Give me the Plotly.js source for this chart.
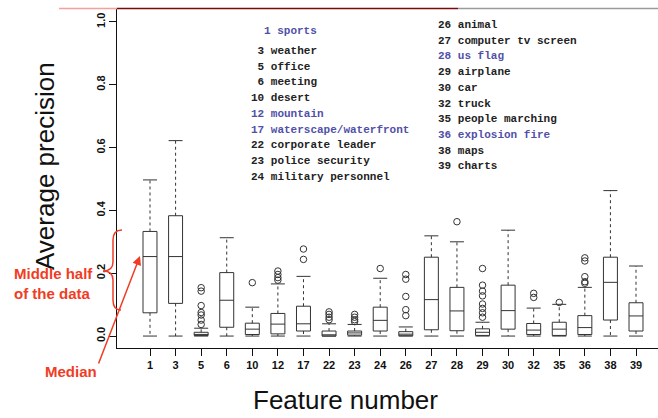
<!DOCTYPE html>
<html>
<head>
<meta charset="utf-8">
<script src="https://cdn.plot.ly/plotly-3.0.1.min.js"></script>
<style>html,body{margin:0;padding:0;background:#fff;}#chart{width:658px;height:418px;}</style>
</head>
<body>
<div id="chart"></div>
<script>
// ---- data ----
const categories = ['1','3','5','6','10','12','17','22','23','24','26','27','28','29','30','32','35','36','38','39'];
const upperWhisker = [0.497,0.622,0.025,0.313,0.092,0.166,0.190,0.039,0.037,0.184,0.029,0.319,0.300,0.044,0.337,0.089,0.101,0.155,0.463,0.223];
const q3 =           [0.333,0.383,0.012,0.202,0.041,0.072,0.095,0.016,0.016,0.092,0.014,0.251,0.155,0.023,0.162,0.040,0.044,0.065,0.251,0.106];
const median =       [0.253,0.253,0.005,0.114,0.022,0.038,0.039,0.004,0.010,0.050,0.006,0.116,0.080,0.012,0.081,0.019,0.022,0.027,0.171,0.064];
const q1 =           [0.074,0.104,0.002,0.028,0.005,0.007,0.016,0.000,0.003,0.016,0.001,0.020,0.017,0.002,0.022,0.005,0.002,0.005,0.051,0.016];
const lowerWhisker = [0,0,0,0,0,0,0,0,0,0,0,0,0,0,0,0,0,0,0,0];

const outlierCat = ['5','5','5','5','5','5','5','10','12','12','12','12','17','17','22','22','22','22','23','23','23','23','24','26','26','26','26','26','28','29','29','29','29','29','29','29','29','32','32','35','36','36','36','36','36'];
const outlierVal = [0.154,0.143,0.097,0.075,0.067,0.051,0.037,0.170,0.207,0.196,0.186,0.178,0.277,0.244,0.077,0.069,0.060,0.052,0.069,0.060,0.052,0.046,0.215,0.196,0.181,0.126,0.084,0.065,0.364,0.215,0.162,0.143,0.128,0.102,0.088,0.074,0.060,0.136,0.123,0.107,0.249,0.239,0.189,0.173,0.168];

const legendLeftNums  = ['3','5','6','10','12','17','22','23','24'];
const legendLeftNames = ['weather','office','meeting','desert','mountain','waterscape/waterfront','corporate leader','police security','military personnel'];
const legendRightNums  = ['26','27','28','29','30','32','35','36','38','39'];
const legendRightNames = ['animal','computer tv screen','us flag','airplane','car','truck','people marching','explosion fire','maps','charts'];
const legendTitle = '1 sports';
const highlighted = ['1','12','17','28','36'];

const yTickVals = [0,0.2,0.4,0.6,0.8,1.0];

// ---- geometry helpers (pixel -> paper) ----
const PL = 117, PR = 658, PT = 9, PB = 348;
const px = x => (x - PL) / (PR - PL);
const py = y => (PB - y) / (PB - PT);

const BLUE = '#5050a8', RED = '#f03c24', INK = '#222';

// whisker segments
const wx = [], wy = [];
categories.forEach((c, i) => {
  wx.push(c, c, null, c, c, null);
  wy.push(q3[i], upperWhisker[i], null, q1[i], lowerWhisker[i], null);
});
const capX = categories.concat(categories);
const capY = upperWhisker.concat(lowerWhisker);

const traces = [
  {type:'scatter', mode:'lines', x:wx, y:wy, connectgaps:false,
   line:{color:'#333', width:1, dash:'3px,3px'}, hoverinfo:'skip', showlegend:false},
  {type:'box', x:categories, q1:q1, median:median, q3:q3, lowerfence:q1, upperfence:q3,
   boxpoints:false, whiskerwidth:0, fillcolor:'rgba(0,0,0,0)',
   line:{color:'#333', width:1}, showlegend:false},
  {type:'scatter', mode:'markers', x:capX, y:capY,
   marker:{symbol:'line-ew', size:10, line:{color:'#333', width:1}}, hoverinfo:'skip', showlegend:false},
  {type:'scatter', mode:'markers', x:outlierCat, y:outlierVal,
   marker:{symbol:'circle-open', size:6.5, color:'#333', line:{width:1}}, showlegend:false}
];

const mono = {family:'"Liberation Mono", "DejaVu Sans Mono", monospace', size:11, weight:'bold'};
const annotations = [];
function addText(text, x, y, color, xanchor) {
  annotations.push({xref:'paper', yref:'paper', x:px(x), y:py(y), text:text, showarrow:false,
    xanchor:xanchor || 'left', yanchor:'middle', font:Object.assign({}, mono, {color:color})});
}
addText(legendTitle, 262, 31, BLUE);
legendLeftNums.forEach((n, i) => {
  const label = (n.length < 2 ? '\u00a0' : '') + n + '\u00a0' + legendLeftNames[i];
  addText(label, 248.5, 51 + i * 15.7, highlighted.includes(n) ? BLUE : INK);
});
legendRightNums.forEach((n, i) => {
  const label = n + '\u00a0' + legendRightNames[i];
  addText(label, 436, 25 + i * 15.7, highlighted.includes(n) ? BLUE : INK);
});

const sans = '"Liberation Sans", Arial, Helvetica, sans-serif';
// axis titles
annotations.push({xref:'paper', yref:'paper', x:px(345), y:py(416), text:'Feature number', showarrow:false,
  xanchor:'center', yanchor:'bottom', font:{family:sans, size:26, color:'#111'}, borderpad:0});
annotations.push({xref:'paper', yref:'paper', x:px(45), y:py(166), text:'Average precision', showarrow:false,
  textangle:-90, xanchor:'center', yanchor:'middle', font:{family:sans, size:26, color:'#111'}});

// red explanatory notes
const redFont = {family:sans, size:15, weight:'bold', color:RED};
annotations.push({xref:'paper', yref:'paper', x:px(12), y:py(273), text:'Middle half', showarrow:false,
  xanchor:'left', yanchor:'middle', font:redFont});
annotations.push({xref:'paper', yref:'paper', x:px(12), y:py(293), text:'of the data', showarrow:false,
  xanchor:'left', yanchor:'middle', font:redFont});
annotations.push({xref:'paper', yref:'paper', x:px(71), y:py(371), text:'Median', showarrow:false,
  xanchor:'center', yanchor:'middle', font:redFont});
annotations.push({xref:'paper', yref:'paper', x:px(140), y:py(256), text:'', showarrow:true,
  axref:'pixel', ayref:'pixel', ax:-42, ay:109, arrowcolor:RED, arrowwidth:1.5, arrowhead:2, arrowsize:1.2, standoff:0});

// brace path
function P(x, y) { return px(x).toFixed(4) + ',' + py(y).toFixed(4); }
const bracePath = 'M' + P(122,230) + ' Q' + P(113,230) + ' ' + P(113,240) + ' L' + P(113,262) +
  ' Q' + P(113,271) + ' ' + P(103,271) + ' Q' + P(113,271) + ' ' + P(113,280) + ' L' + P(113,300) +
  ' Q' + P(113,310) + ' ' + P(121,310);

const shapes = [
  {type:'path', xref:'paper', yref:'paper', path:bracePath, line:{color:RED, width:1.5}},
  {type:'line', xref:'paper', yref:'paper', x0:px(59), x1:px(117), y0:py(8.5), y1:py(8.5), line:{color:'#f4a0a0', width:1.5}},
  {type:'line', xref:'paper', yref:'paper', x0:px(117), x1:px(458), y0:py(8.5), y1:py(8.5), line:{color:'#7a0a0a', width:1.5}},
  {type:'line', xref:'paper', yref:'paper', x0:px(458), x1:px(658), y0:py(8.5), y1:py(8.5), line:{color:'#9a9a9a', width:1.5}}
];

const layout = {
  width:658, height:418,
  margin:{l:PL, r:0, t:PT, b:418-PB, pad:0},
  paper_bgcolor:'#fff', plot_bgcolor:'#fff',
  showlegend:false,
  boxgap:0.22,
  xaxis:{type:'category', categoryorder:'array', categoryarray:categories,
    range:[-1.29, 19.86], showgrid:false, zeroline:false,
    showline:true, linecolor:'#111', linewidth:1,
    ticks:'outside', ticklen:7, tickcolor:'#111', tickwidth:1,
    tickfont:{family:sans, size:11, weight:'bold', color:'#111'}},
  yaxis:{range:[-0.038, 1.041], tickvals:yTickVals, tickformat:'.1f',
    showgrid:false, zeroline:false, showline:true, linecolor:'#111', linewidth:1,
    ticks:'outside', ticklen:7, tickcolor:'#111', tickwidth:1, tickangle:-90,
    tickfont:{family:sans, size:11, weight:'bold', color:'#111'}},
  annotations:annotations,
  shapes:shapes
};

Plotly.newPlot('chart', traces, layout, {staticPlot:true, displayModeBar:false});
</script>
</body>
</html>
